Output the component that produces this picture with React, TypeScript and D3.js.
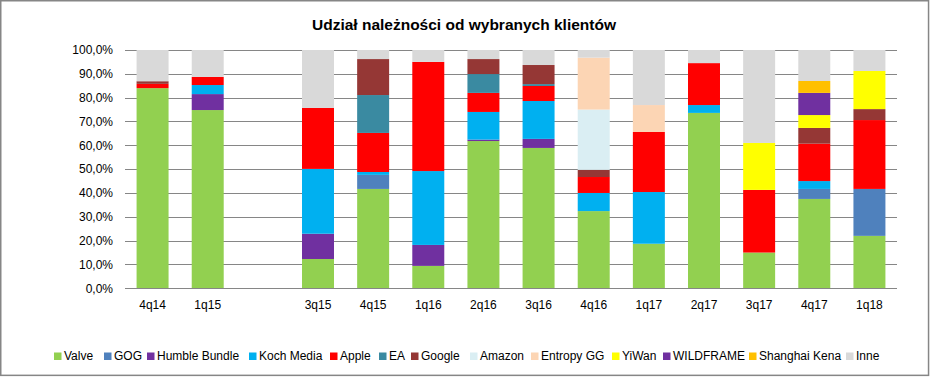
import React from "react";
import * as d3 from "d3";

const categories = ["4q14", "1q15", "", "3q15", "4q15", "1q16", "2q16", "3q16", "4q16", "1q17", "2q17", "3q17", "4q17", "1q18"];

const seriesNames = ["Valve", "GOG", "Humble Bundle", "Koch Media", "Apple", "EA", "Google", "Amazon", "Entropy GG", "YiWan", "WILDFRAME", "Shanghai Kena", "Inne"];

const valve = [84.0, 74.8, 0, 12.3, 41.7, 9.4, 61.8, 58.9, 32.4, 18.7, 73.6, 15.0, 37.5, 22.0];
const gog = [0, 0, 0, 0, 5.9, 0, 0, 0, 0, 0, 0, 0, 4.2, 19.7];
const humble = [0, 6.7, 0, 10.6, 0, 8.8, 0.6, 3.8, 0, 0, 0, 0, 0, 0];
const koch = [0, 3.8, 0, 27.2, 1.2, 31.0, 11.6, 15.9, 7.6, 21.7, 3.3, 0, 3.3, 0];
const apple = [1.8, 3.4, 0, 25.6, 16.4, 45.8, 8.0, 6.3, 6.7, 25.2, 17.6, 26.3, 15.7, 28.9];
const ea = [0, 0, 0, 0, 15.9, 0, 7.9, 0.8, 0, 0, 0, 0, 0, 0];
const google = [1.1, 0, 0, 0, 15.1, 0, 6.3, 8.0, 3.0, 0, 0, 0, 6.6, 4.6];
const amazon = [0, 0, 0, 0, 0, 0, 0, 0, 25.3, 0, 0, 0, 0, 0];
const entropy = [0, 0, 0, 0, 0, 0, 0, 0, 21.8, 11.3, 0, 0, 0, 0];
const yiwan = [0, 0, 0, 0, 0, 0, 0, 0, 0, 0, 0, 19.7, 5.4, 16.0];
const wildframe = [0, 0, 0, 0, 0, 0, 0, 0, 0, 0, 0, 0, 9.3, 0];
const shanghai = [0, 0, 0, 0, 0, 0, 0, 0, 0, 0, 0, 0, 5.0, 0];
const inne = [13.1, 11.3, 0, 24.3, 3.8, 5.0, 3.8, 6.3, 3.2, 23.1, 5.5, 39.0, 13.0, 8.8];

const yTicks = [0, 0.1, 0.2, 0.3, 0.4, 0.5, 0.6, 0.7, 0.8, 0.9, 1.0];

const colors = ["#92D050", "#4F81BD", "#7030A0", "#00B0F0", "#FF0000", "#3A8AA1", "#953735", "#DAEEF3", "#FCD5B4", "#FFFF00", "#7030A0", "#FFC000", "#D9D9D9"];

// layout
const W = 930;
const H = 377;
const PLOT = { left: 125, right: 897, top: 50, bottom: 288.3 };
const LEGEND_X = [54, 104, 147, 249, 330, 379, 411, 470, 531, 612, 663, 749, 846];
const FONT = "'Liberation Sans', Arial, sans-serif";

export default function App() {
  const allSeries = [valve, gog, humble, koch, apple, ea, google, amazon, entropy, yiwan, wildframe, shanghai, inne];
  const rows = categories.map((c, i) => {
    const r: Record<string, number> = {};
    seriesNames.forEach((s, k) => (r[s] = allSeries[k][i]));
    return r;
  });
  const stacked = d3.stack<Record<string, number>>().keys(seriesNames).offset(d3.stackOffsetExpand)(rows);

  const x = d3
    .scaleBand<number>()
    .domain(d3.range(categories.length))
    .range([PLOT.left, PLOT.right])
    .paddingInner(0.42)
    .paddingOuter(0.21);
  const y = d3.scaleLinear().domain([0, 1]).range([PLOT.bottom, PLOT.top]);
  const fmt = (v: number) => (v * 100).toFixed(1).replace(".", ",") + "%";

  return (
    <svg width={W} height={H} style={{ position: "fixed", left: 0, top: 0, background: "#fff" }} fontFamily={FONT}>
      <rect x={0.75} y={0.75} width={927.8} height={374.6} fill="#fff" stroke="#868686" strokeWidth={1.5} />
      <text x={464} y={30} textAnchor="middle" fontSize={15.5} fontWeight="bold" fill="#000">
        Udział należności od wybranych klientów
      </text>
      {yTicks.map((t) => (
        <g key={t}>
          <line x1={PLOT.left} x2={PLOT.right} y1={Math.round(y(t)) + 0.5} y2={Math.round(y(t)) + 0.5} stroke="#868686" strokeWidth={1} />
          <text x={113} y={y(t)} dy="0.35em" textAnchor="end" fontSize={12} fill="#000">
            {fmt(t)}
          </text>
        </g>
      ))}
      {stacked.map((s, k) => (
        <g key={s.key} fill={colors[k]}>
          {s.map((d, i) =>
            d[1] - d[0] > 0 ? (
              <rect key={i} x={x(i)} width={x.bandwidth()} y={y(d[1])} height={y(d[0]) - y(d[1])} />
            ) : null
          )}
        </g>
      ))}
      <line x1={PLOT.left} x2={PLOT.right} y1={Math.round(y(0)) + 0.5} y2={Math.round(y(0)) + 0.5} stroke="#868686" strokeWidth={1} />
      {categories.map((c, i) => (
        <text key={i} x={(x(i) as number) + x.bandwidth() / 2} y={309} textAnchor="middle" fontSize={12} fill="#000">
          {c}
        </text>
      ))}
      {seriesNames.map((n, k) => (
        <g key={n}>
          <rect x={LEGEND_X[k]} y={352.5} width={7.5} height={7.5} fill={colors[k]} />
          <text x={LEGEND_X[k] + 10} y={360} fontSize={12} fill="#000">
            {n}
          </text>
        </g>
      ))}
    </svg>
  );
}
